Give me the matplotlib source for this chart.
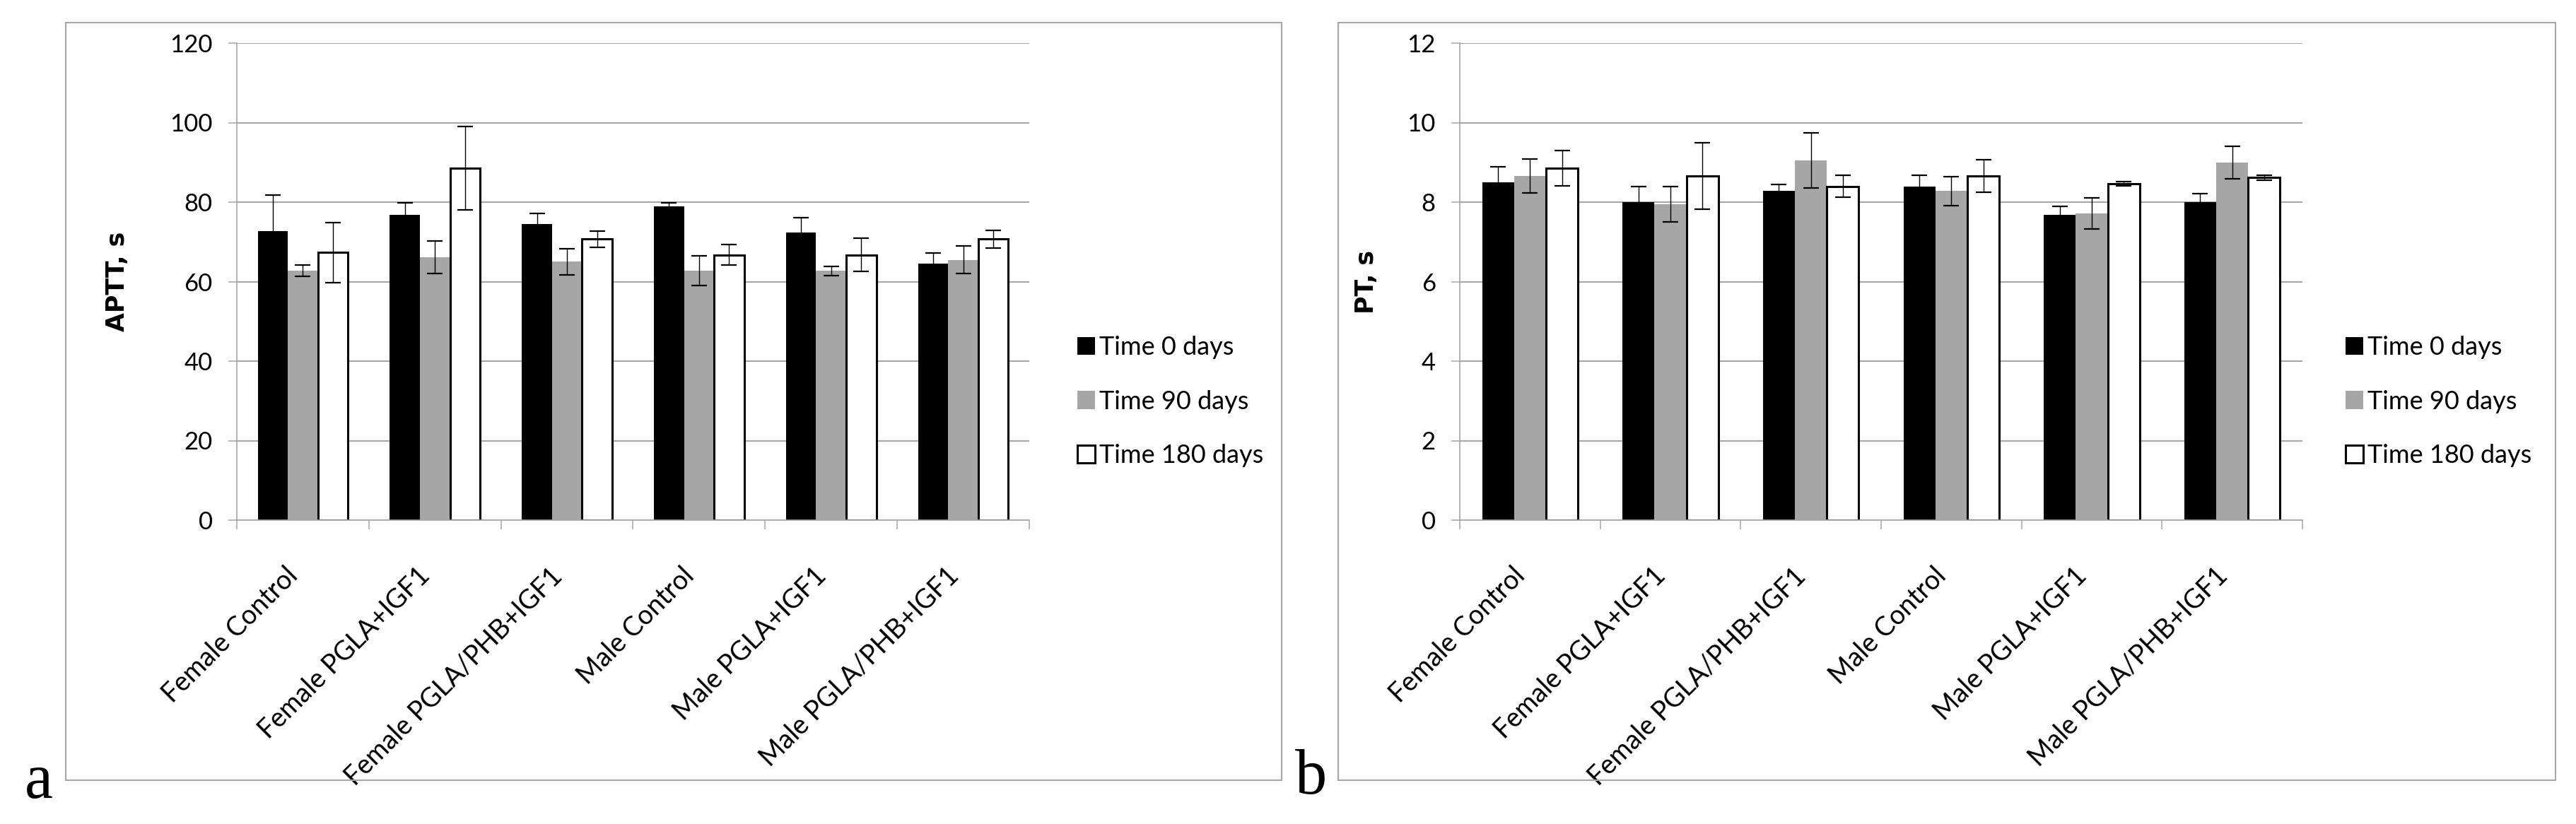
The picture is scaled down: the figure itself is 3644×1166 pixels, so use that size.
import matplotlib
matplotlib.use("Agg")
from matplotlib import pyplot as plt
from matplotlib.patches import Rectangle

plt.rcParams['font.family'] = ['Lato', 'DejaVu Sans']

# groups on the x axis
groups = ["Female Control", "Female PGLA+IGF1", "Female PGLA/PHB+IGF1",
          "Male Control", "Male PGLA+IGF1", "Male PGLA/PHB+IGF1"]
series = ["Time 0 days", "Time 90 days", "Time 180 days"]

# panel a - APTT, s
aptt_t0 = [72.8, 76.8, 74.5, 78.9, 72.3, 64.5]
aptt_t0_err = [8.9, 3.1, 2.7, 1.0, 3.8, 2.7]
aptt_t90 = [62.7, 66.1, 65.0, 62.7, 62.7, 65.5]
aptt_t90_err = [1.4, 4.1, 3.3, 3.7, 1.1, 3.4]
aptt_t180 = [67.3, 88.6, 70.7, 66.7, 66.7, 70.7]
aptt_t180_err = [7.5, 10.5, 2.0, 2.6, 4.2, 2.2]

# panel b - PT, s
pt_t0 = [8.50, 8.00, 8.28, 8.39, 7.68, 8.00]
pt_t0_err = [0.39, 0.39, 0.16, 0.28, 0.21, 0.22]
pt_t90 = [8.66, 7.95, 9.05, 8.28, 7.72, 9.00]
pt_t90_err = [0.42, 0.44, 0.69, 0.36, 0.39, 0.41]
pt_t180 = [8.85, 8.66, 8.40, 8.66, 8.46, 8.62]
pt_t180_err = [0.44, 0.83, 0.28, 0.41, 0.05, 0.06]

W, H = 3644, 1166
GRID = '#a6a6a6'
fig = plt.figure(figsize=(W / 100, H / 100), dpi=100)


def px_axes(x0, x1, y0, y1):
    return fig.add_axes([x0 / W, 1 - y1 / H, (x1 - x0) / W, (y1 - y0) / H])


def draw_panel(ax, vals, errs, ymax, ystep, ylabel, label_x, leg_x):
    bw = 0.2275
    styles = [dict(color='black', edgecolor='none'),
              dict(color='#a6a6a6', edgecolor='none'),
              dict(color='white', edgecolor='black', linewidth=2.2)]
    handles = []
    for k in range(3):
        xs = [i + (k - 1) * bw for i in range(len(groups))]
        b = ax.bar(xs, vals[k], width=bw, label=series[k], zorder=2, **styles[k])
        handles.append(b)
        ax.errorbar(xs, vals[k], yerr=errs[k], fmt='none', ecolor='black',
                    elinewidth=1.0, capsize=8, capthick=1.6, zorder=3)
    ax.set_xlim(-0.5, len(groups) - 0.5)
    ax.set_ylim(0, ymax)
    ax.set_yticks([ystep * i for i in range(int(ymax / ystep) + 1)])
    ax.yaxis.grid(True, color=GRID, linewidth=1.5)
    ax.set_axisbelow(True)
    for s in ['top', 'right']:
        ax.spines[s].set_visible(False)
    for s in ['left', 'bottom']:
        ax.spines[s].set_color(GRID)
        ax.spines[s].set_linewidth(1.2)
    ax.tick_params(axis='y', length=8.6, width=1.1, color=GRID, pad=16, labelsize=25)
    ax.set_xticks(range(len(groups)))
    ax.set_xticklabels(groups, rotation=45, ha='right', va='bottom',
                       rotation_mode='anchor', fontsize=27)
    ax.tick_params(axis='x', which='major', length=0, pad=62)
    ax.set_xticks([i - 0.5 for i in range(len(groups) + 1)], minor=True)
    ax.tick_params(axis='x', which='minor', length=9.7, width=1.1, color=GRID)
    ax.set_ylabel(ylabel, fontsize=25, fontweight='bold', family='DejaVu Sans', va='center')
    ax.yaxis.set_label_coords(label_x, 0.5)
    ax.legend(handles=handles, loc='center left', bbox_to_anchor=(leg_x / W, 1 - 568 / H),
              bbox_transform=fig.transFigure, frameon=False, fontsize=26,
              handlelength=0.7, handleheight=0.7, handletextpad=0.15,
              labelspacing=1.2, borderpad=0, borderaxespad=0)


ax_a = px_axes(335, 1456, 61, 736)
draw_panel(ax_a, [aptt_t0, aptt_t90, aptt_t180], [aptt_t0_err, aptt_t90_err, aptt_t180_err],
           120, 20, "APTT, s", (166 - 335) / 1121, 1524)

ax_b = px_axes(2065, 3257, 61, 736)
draw_panel(ax_b, [pt_t0, pt_t90, pt_t180], [pt_t0_err, pt_t90_err, pt_t180_err],
           12, 2, "PT, s", (1933 - 2065) / 1192, 3318)

# grey frames round each panel
for x0, x1 in [(93, 1813), (1893, 3615)]:
    fig.add_artist(Rectangle((x0 / W, 1 - 1104 / H), (x1 - x0) / W, (1104 - 32) / H,
                             transform=fig.transFigure, fill=False,
                             edgecolor=GRID, linewidth=1.5))

fig.text(35 / W, 1 - 1129 / H, "a", fontsize=65, family='Liberation Serif',
         ha='left', va='baseline')
fig.text(1832 / W, 1 - 1123 / H, "b", fontsize=65, family='Liberation Serif',
         ha='left', va='baseline')

fig.savefig("out.png", dpi=100)
